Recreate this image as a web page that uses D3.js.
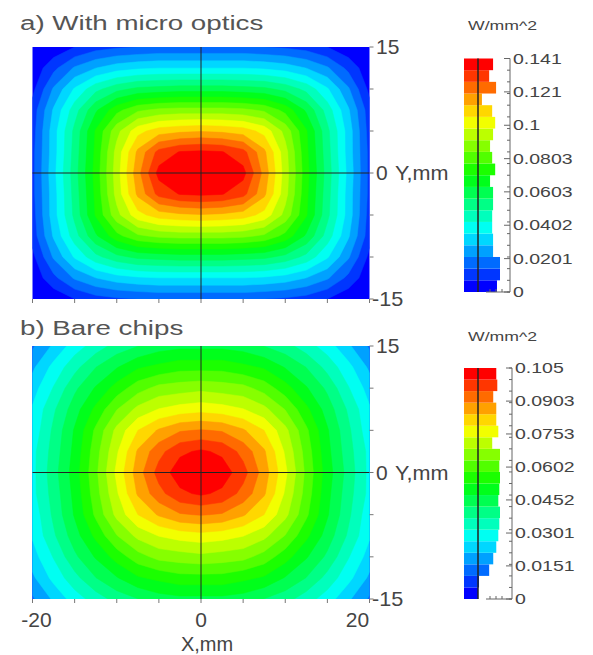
<!DOCTYPE html>
<html>
<head>
<meta charset="utf-8">
<script src="https://cdn.jsdelivr.net/npm/d3@7"></script>
<style>
  body { margin: 0; background: #fff; }
  svg { display: block; }
  text { font-family: "Liberation Sans", Arial, sans-serif; }
</style>
</head>
<body>
<div id="chart"></div>
<script>
// sample grid, mm (2.5 mm step)
const gridX = [-20, -17.5, -15, -12.5, -10, -7.5, -5, -2.5, 0, 2.5, 5, 7.5, 10, 12.5, 15, 17.5, 20];
const gridY = [15, 12.5, 10, 7.5, 5, 2.5, 0, -2.5, -5, -7.5, -10, -12.5, -15];

// irradiance, W/mm^2, one row per gridY value (top row first)
const fluxMicroOptics = [
  [0.000,0.002,0.007,0.011,0.013,0.014,0.015,0.015,0.015,0.015,0.015,0.014,0.013,0.011,0.007,0.002,0.000],
  [0.002,0.012,0.022,0.028,0.032,0.034,0.035,0.035,0.035,0.035,0.035,0.034,0.032,0.028,0.022,0.012,0.002],
  [0.005,0.022,0.036,0.047,0.054,0.058,0.059,0.060,0.060,0.060,0.059,0.058,0.054,0.047,0.036,0.022,0.005],
  [0.010,0.029,0.046,0.062,0.075,0.083,0.086,0.087,0.087,0.087,0.086,0.083,0.075,0.062,0.046,0.029,0.010],
  [0.011,0.032,0.051,0.071,0.089,0.103,0.109,0.111,0.112,0.111,0.109,0.103,0.089,0.071,0.051,0.032,0.011],
  [0.012,0.032,0.052,0.072,0.094,0.114,0.129,0.134,0.135,0.134,0.129,0.114,0.094,0.072,0.052,0.032,0.012],
  [0.012,0.033,0.053,0.073,0.095,0.117,0.136,0.140,0.141,0.140,0.136,0.117,0.095,0.073,0.053,0.033,0.012],
  [0.012,0.032,0.052,0.072,0.094,0.114,0.129,0.134,0.135,0.134,0.129,0.114,0.094,0.072,0.052,0.032,0.012],
  [0.011,0.032,0.051,0.071,0.089,0.103,0.109,0.111,0.112,0.111,0.109,0.103,0.089,0.071,0.051,0.032,0.011],
  [0.010,0.029,0.046,0.062,0.075,0.083,0.086,0.087,0.087,0.087,0.086,0.083,0.075,0.062,0.046,0.029,0.010],
  [0.005,0.022,0.036,0.047,0.054,0.058,0.059,0.060,0.060,0.060,0.059,0.058,0.054,0.047,0.036,0.022,0.005],
  [0.002,0.012,0.022,0.028,0.032,0.034,0.035,0.035,0.035,0.035,0.035,0.034,0.032,0.028,0.022,0.012,0.002],
  [0.000,0.002,0.007,0.011,0.013,0.014,0.015,0.015,0.015,0.015,0.015,0.014,0.013,0.011,0.007,0.002,0.000]
];

const fluxBareChips = [
  [0.015,0.022,0.029,0.034,0.039,0.042,0.045,0.046,0.046,0.046,0.045,0.042,0.039,0.034,0.029,0.022,0.015],
  [0.020,0.028,0.035,0.042,0.047,0.052,0.054,0.056,0.056,0.056,0.054,0.052,0.047,0.042,0.035,0.028,0.020],
  [0.024,0.032,0.041,0.048,0.055,0.061,0.065,0.066,0.067,0.066,0.065,0.061,0.055,0.048,0.041,0.032,0.024],
  [0.027,0.036,0.045,0.054,0.063,0.070,0.074,0.076,0.077,0.076,0.074,0.070,0.063,0.054,0.045,0.036,0.027],
  [0.028,0.038,0.048,0.059,0.070,0.079,0.085,0.089,0.090,0.089,0.085,0.079,0.070,0.059,0.048,0.038,0.028],
  [0.030,0.039,0.049,0.061,0.073,0.085,0.093,0.099,0.101,0.099,0.093,0.085,0.073,0.061,0.049,0.039,0.030],
  [0.030,0.040,0.050,0.062,0.075,0.087,0.097,0.103,0.105,0.103,0.097,0.087,0.075,0.062,0.050,0.040,0.030],
  [0.030,0.039,0.049,0.061,0.073,0.085,0.093,0.099,0.101,0.099,0.093,0.085,0.073,0.061,0.049,0.039,0.030],
  [0.028,0.038,0.048,0.059,0.070,0.079,0.085,0.089,0.090,0.089,0.085,0.079,0.070,0.059,0.048,0.038,0.028],
  [0.027,0.036,0.045,0.054,0.063,0.070,0.074,0.076,0.077,0.076,0.074,0.070,0.063,0.054,0.045,0.036,0.027],
  [0.024,0.032,0.041,0.048,0.055,0.061,0.065,0.066,0.067,0.066,0.065,0.061,0.055,0.048,0.041,0.032,0.024],
  [0.020,0.028,0.035,0.042,0.047,0.052,0.054,0.056,0.056,0.056,0.054,0.052,0.047,0.042,0.035,0.028,0.020],
  [0.015,0.022,0.029,0.034,0.039,0.042,0.045,0.046,0.046,0.046,0.045,0.042,0.039,0.034,0.029,0.022,0.015]
];

// colour bar scales
const barMaxA = 0.1406;
const barTicksA = [0, 0.0201, 0.0402, 0.0603, 0.0803, 0.1004, 0.1205, 0.1406];
const barLabelsA = ["0", "0.0201", "0.0402", "0.0603", "0.0803", "0.1", "0.121", "0.141"];
const barMaxB = 0.1054;
const barTicksB = [0, 0.0151, 0.0301, 0.0452, 0.0602, 0.0753, 0.0903, 0.1054];
const barLabelsB = ["0", "0.0151", "0.0301", "0.0452", "0.0602", "0.0753", "0.0903", "0.105"];

// area share per level (%), lowest level first
const histA = [6.3, 7.3, 7.3, 5.0, 5.0, 4.7, 4.7, 5.0, 5.0, 4.0, 5.7, 4.7, 4.0, 5.0, 5.7, 4.7, 1.3, 6.0, 3.7, 5.0];
const histB = [0, 0.3, 3.3, 4.5, 5.4, 6.0, 6.3, 6.5, 6.0, 6.3, 6.5, 6.3, 6.5, 4.2, 6.0, 5.4, 5.4, 4.5, 5.7, 5.4];

const xTicks = [-20, -15, -10, -5, 0, 5, 10, 15, 20];
const yTicks = [-15, -10, -5, 0, 5, 10, 15];

const nLevels = 20;
const palette = d3.range(nLevels).map(k => d3.hsl(240 - 240 * k / (nLevels - 1), 1, 0.5).formatHex());

const svg = d3.select("#chart").append("svg")
  .attr("width", 593)
  .attr("height", 655);

function stretched(g, x, y, str, size, sx, anchor, fill) {
  return g.append("text")
    .attr("transform", `translate(${x},${y}) scale(${sx},1)`)
    .attr("text-anchor", anchor || "start")
    .attr("font-size", size)
    .attr("fill", fill || "#444")
    .text(str);
}

function drawPanel(p) {
  const g = svg.append("g");
  const x = d3.scaleLinear().domain([-20, 20]).range([32.5, 369.5]);
  const y = d3.scaleLinear().domain([-15, 15]).range([p.bottom, p.top]);

  stretched(g, 20, p.titleY, p.title, 21, 1.32, "start", "#555");

  // filled contours
  const clipId = "clip" + p.id;
  g.append("clipPath").attr("id", clipId)
    .append("rect")
    .attr("x", x(-20)).attr("y", y(15))
    .attr("width", x(20) - x(-20)).attr("height", y(-15) - y(15));

  const nx = gridX.length, ny = gridY.length;
  const step = p.max / nLevels;
  const thresholds = d3.range(nLevels).map(k => k * step);
  const contours = d3.contours().size([nx, ny]).thresholds(thresholds)(p.grid.flat());
  const dx = gridX[1] - gridX[0], dy = gridY[1] - gridY[0];
  const proj = d3.geoTransform({
    point(px, py) {
      this.stream.point(x(gridX[0] + (px - 0.5) * dx), y(gridY[0] + (py - 0.5) * dy));
    }
  });
  const path = d3.geoPath(proj);

  g.append("g").attr("clip-path", `url(#${clipId})`)
    .selectAll("path")
    .data(contours)
    .join("path")
    .attr("d", path)
    .attr("fill", (d, i) => palette[i])
    .attr("stroke", (d, i) => palette[i])
    .attr("stroke-width", 0.5);

  // crosshair
  g.append("line")
    .attr("x1", x(0)).attr("x2", x(0)).attr("y1", y(15)).attr("y2", y(-15))
    .attr("stroke", "#222").attr("stroke-width", 1);
  g.append("line")
    .attr("x1", x(-20)).attr("x2", x(20)).attr("y1", y(0)).attr("y2", y(0))
    .attr("stroke", "#222").attr("stroke-width", 1);

  // bottom ticks
  g.append("g").selectAll("line")
    .data(xTicks)
    .join("line")
    .attr("x1", d => x(d)).attr("x2", d => x(d))
    .attr("y1", y(-15)).attr("y2", y(-15) + 4)
    .attr("stroke", "#777");
  // right ticks
  g.append("g").selectAll("line")
    .data(yTicks)
    .join("line")
    .attr("x1", x(20)).attr("x2", x(20) + 4)
    .attr("y1", d => y(d)).attr("y2", d => y(d))
    .attr("stroke", "#777");

  stretched(g, 376, y(15) + 7, "15", 20, 1.05);
  stretched(g, 376, y(0) + 7, "0", 20, 1.05);
  stretched(g, 395, y(0) + 7, "Y,mm", 20, 1.08);
  stretched(g, 372, y(-15) + 7, "-15", 20, 1.08);

  if (p.xLabels) {
    stretched(g, x(-20) + 4, 627, "-20", 20, 1.05, "middle");
    stretched(g, x(0), 627, "0", 20, 1.05, "middle");
    stretched(g, x(20) - 12, 627, "20", 20, 1.05, "middle");
    stretched(g, 207, 651, "X,mm", 20, 1.0, "middle");
  }

  // colour bar with level histogram
  const cb = svg.append("g");
  const by = d3.scaleLinear().domain([0, p.max]).range([p.barBottom, p.barTop]);
  const hx = d3.scaleLinear().domain([0, d3.max(p.hist)]).range([0, 22]);
  const swatchX = 464, zeroX = 478, axisX = p.axisX;

  stretched(cb, 468, p.unitY, "W/mm^2", 13, 1.36);

  cb.selectAll("rect")
    .data(p.hist)
    .join("rect")
    .attr("x", swatchX)
    .attr("y", (d, k) => by((k + 1) * step))
    .attr("width", d => zeroX - swatchX + hx(d))
    .attr("height", (d, k) => by(k * step) - by((k + 1) * step))
    .attr("fill", (d, k) => palette[k]);

  cb.append("line")
    .attr("x1", zeroX).attr("x2", zeroX)
    .attr("y1", by(p.max)).attr("y2", by(0))
    .attr("stroke", "#222").attr("stroke-width", 1.5);

  cb.append("line")
    .attr("x1", axisX).attr("x2", axisX)
    .attr("y1", by(p.max)).attr("y2", by(0))
    .attr("stroke", "#666");
  cb.append("line")
    .attr("x1", 486).attr("x2", axisX)
    .attr("y1", by(0)).attr("y2", by(0))
    .attr("stroke", "#666");
  cb.append("g").selectAll("line")
    .data([490, 496, 502])
    .join("line")
    .attr("x1", d => d).attr("x2", d => d)
    .attr("y1", by(0)).attr("y2", by(0) - 3)
    .attr("stroke", "#666");

  cb.append("g").selectAll("line")
    .data(thresholds.concat([p.max]))
    .join("line")
    .attr("x1", axisX - 3).attr("x2", axisX)
    .attr("y1", d => by(d)).attr("y2", d => by(d))
    .attr("stroke", "#666");
  cb.append("g").selectAll("line")
    .data(p.ticks)
    .join("line")
    .attr("x1", axisX - 6).attr("x2", axisX)
    .attr("y1", d => by(d)).attr("y2", d => by(d))
    .attr("stroke", "#666");

  p.ticks.forEach((t, i) => {
    stretched(cb, axisX + 3, by(t) + 5, p.labels[i], 15, 1.3);
  });
}

drawPanel({
  id: "a", title: "a) With micro optics", titleY: 30,
  grid: fluxMicroOptics, max: barMaxA, top: 47, bottom: 299,
  hist: histA, ticks: barTicksA, labels: barLabelsA,
  barTop: 58.5, barBottom: 292, axisX: 510, unitY: 30, xLabels: false
});

drawPanel({
  id: "b", title: "b) Bare chips", titleY: 335,
  grid: fluxBareChips, max: barMaxB, top: 346, bottom: 599,
  hist: histB, ticks: barTicksB, labels: barLabelsB,
  barTop: 368, barBottom: 599, axisX: 512, unitY: 341, xLabels: true
});
</script>
</body>
</html>
